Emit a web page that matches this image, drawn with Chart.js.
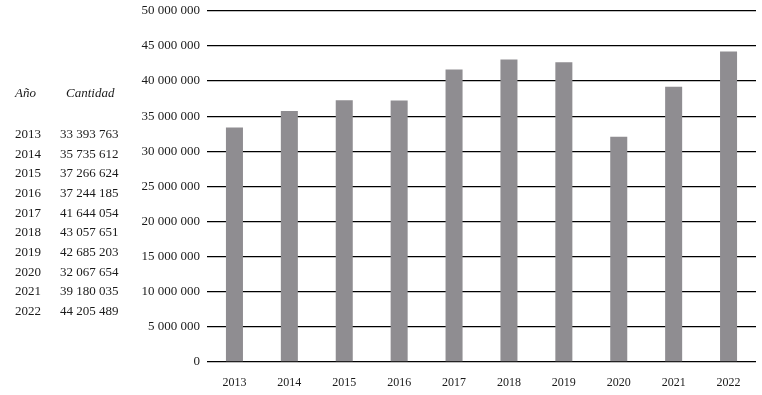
<!DOCTYPE html>
<html><head><meta charset="utf-8">
<script src="https://cdn.jsdelivr.net/npm/chart.js@4"></script>
<style>
html,body{margin:0;padding:0;background:#fff;overflow:hidden;}
#wrap{position:relative;width:762px;height:395px;overflow:hidden;}
canvas{position:absolute;left:0;top:-4px;}
.t{position:absolute;font-family:"Liberation Serif","DejaVu Serif",serif;font-size:13px;color:#1a1a1a;white-space:nowrap;}
.h{font-style:italic;}
</style></head>
<body><div id="wrap"><canvas id="c" width="762" height="399"></canvas></div>
<script>
const years = ['2013','2014','2015','2016','2017','2018','2019','2020','2021','2022'];
const cantidad = [33393763,35735612,37266624,37244185,41644054,43057651,42685203,32067654,39180035,44205489];
const tableHeaders = ['Año','Cantidad'];
const yTicks = {min:0,max:50000000,step:5000000};

function fmt(v){return String(Math.round(v)).replace(/\B(?=(\d{3})+(?!\d))/g,' ');}

const wrap=document.getElementById('wrap');
function addText(txt,x,y,cls){const d=document.createElement('div');d.className='t '+(cls||'');d.textContent=txt;d.style.left=x+'px';d.style.top=y+'px';wrap.appendChild(d);}
addText(tableHeaders[0],15,85,'h');
addText(tableHeaders[1],66,85,'h');
years.forEach((y,i)=>{addText(y,15,126+i*19.67);addText(fmt(cantidad[i]),60,126+i*19.67);});

new Chart(document.getElementById('c'),{
type:'bar',
data:{labels:years,datasets:[{data:cantidad,backgroundColor:'#8f8d91',barPercentage:0.62,categoryPercentage:0.5}]},
options:{responsive:false,animation:false,
layout:{padding:{top:3,right:6,bottom:0,left:0}},
plugins:{legend:{display:false},tooltip:{enabled:false}},
scales:{
x:{grid:{display:false,drawTicks:false},border:{display:false},
 ticks:{padding:14,color:'#1a1a1a',font:{family:'"Liberation Serif","DejaVu Serif",serif',size:12}},
 afterFit(s){s.height=33;}},
y:{min:yTicks.min,max:yTicks.max,
 grid:{color:'#000',lineWidth:1.3,drawTicks:false},border:{display:false},
 ticks:{stepSize:yTicks.step,padding:7,color:'#1a1a1a',font:{family:'"Liberation Serif","DejaVu Serif",serif',size:13},callback:v=>fmt(v)},
 afterFit(s){s.width=207;}}
}}});
</script></body></html>
